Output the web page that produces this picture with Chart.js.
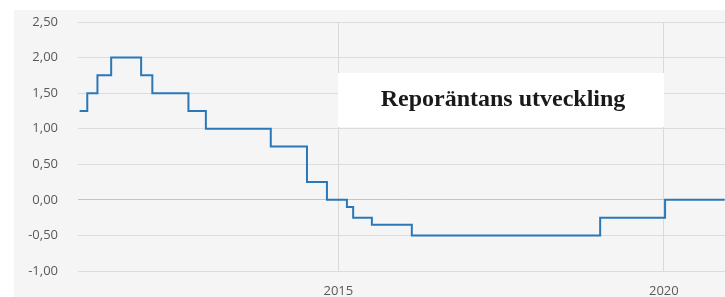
<!DOCTYPE html>
<html>
<head>
<meta charset="utf-8">
<script src="https://cdn.jsdelivr.net/npm/chart.js@4/dist/chart.umd.min.js"></script>
<style>
  html, body { margin: 0; padding: 0; background: #fff; }
  #wrap { position: relative; width: 725px; height: 297px; }
</style>
</head>
<body>
<div id="wrap"><canvas id="repo"></canvas></div>
<script>
// Riksbank repo rate decisions (date the new rate applies, new rate in %)
const changeDates = [
  '2011-01-10', '2011-02-22', '2011-04-20', '2011-07-06', '2011-12-21',
  '2012-02-22', '2012-09-12', '2012-12-19', '2013-12-18', '2014-07-09',
  '2014-10-29', '2015-02-18', '2015-03-25', '2015-07-08', '2016-02-17',
  '2019-01-09', '2020-01-08', '2020-12-08'
];
const rates = [
  1.25, 1.50, 1.75, 2.00, 1.75,
  1.50, 1.25, 1.00, 0.75, 0.25,
  0.00, -0.10, -0.25, -0.35, -0.50,
  -0.25, 0.00, 0.00
];
const yearTicks = [2015, 2020];
const chartTitle = 'Reporäntans utveckling';

function toYear(s) {
  const [y, m, d] = s.split('-').map(Number);
  const start = Date.UTC(y, 0, 1);
  const end = Date.UTC(y + 1, 0, 1);
  return y + (Date.UTC(y, m - 1, d) - start) / (end - start);
}

const points = changeDates.map((d, i) => ({ x: toYear(d), y: rates[i] }));

const panelBg = {
  id: 'panelBg',
  beforeDraw(chart) {
    const ctx = chart.ctx;
    ctx.save();
    ctx.fillStyle = '#f5f5f5';
    ctx.fillRect(14, 10, chart.width - 14, chart.height - 10);
    ctx.restore();
  }
};

// white caption box laid over the plot
const titleBox = {
  id: 'titleBox',
  afterDatasetsDraw(chart) {
    const ctx = chart.ctx;
    ctx.save();
    ctx.fillStyle = '#ffffff';
    ctx.fillRect(338, 73, 326, 54);
    ctx.fillStyle = '#1a1a1a';
    ctx.font = 'bold 24px "Liberation Serif", serif';
    ctx.textAlign = 'center';
    ctx.textBaseline = 'middle';
    ctx.fillText(chartTitle, 503, 100);
    ctx.restore();
  }
};

function main() {
  new Chart(document.getElementById('repo'), {
    type: 'line',
    data: {
      datasets: [{
        data: points,
        stepped: true,
        borderColor: '#2b78b8',
        borderWidth: 2,
        pointRadius: 0,
        fill: false,
      }],
    },
    options: {
      responsive: true,
      maintainAspectRatio: false,
      animation: false,
      layout: { padding: { top: 22, left: 0, right: 0, bottom: 0 } },
      plugins: { legend: { display: false }, tooltip: { enabled: false } },
      scales: {
        x: {
          type: 'linear',
          min: 2011.0,
          max: 2020.94,
          afterBuildTicks: (axis) => { axis.ticks = yearTicks.map(v => ({ value: v })); },
          afterFit: (axis) => { axis.height = 26; },
          border: { display: false },
          grid: { color: '#d9d9d9', drawTicks: false },
          ticks: {
            color: '#595959',
            font: { family: '"Open Sans", sans-serif', size: 13 },
            padding: 12,
            maxRotation: 0,
            callback: (v) => String(v),
          },
        },
        y: {
          min: -1,
          max: 2.5,
          afterFit: (axis) => { axis.width = 78; },
          border: { display: false },
          grid: {
            color: (c) => (c.tick && c.tick.value === 0 ? '#c4c4c4' : '#dcdcdc'),
            drawTicks: true,
            tickLength: 20,
            tickColor: 'rgba(0,0,0,0)',
          },
          ticks: {
            stepSize: 0.5,
            color: '#595959',
            font: { family: '"Open Sans", sans-serif', size: 13 },
            padding: 0,
            callback: (v) => v.toFixed(2).replace('.', ','),
          },
        },
      },
    },
    plugins: [panelBg, titleBox],
  });
}

main();
</script>
</body>
</html>
